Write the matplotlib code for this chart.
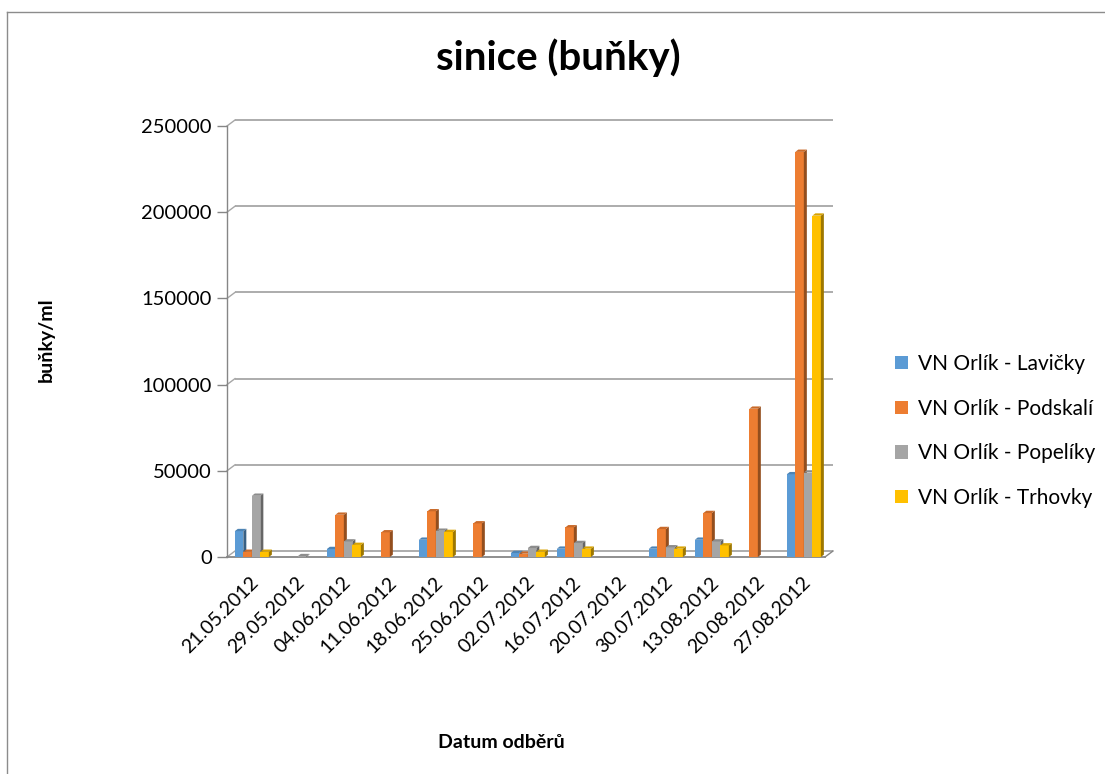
import numpy as np
import matplotlib
matplotlib.use("Agg")
import matplotlib.pyplot as plt
from matplotlib.patches import Polygon, Patch
from matplotlib.lines import Line2D
from matplotlib.colors import to_rgb

plt.rcParams['font.family'] = ['Lato', 'DejaVu Sans']

# ---- data -------------------------------------------------------------
dates = ['21.05.2012', '29.05.2012', '04.06.2012', '11.06.2012', '18.06.2012',
         '25.06.2012', '02.07.2012', '16.07.2012', '20.07.2012', '30.07.2012',
         '13.08.2012', '20.08.2012', '27.08.2012']
nan = np.nan
lavicky = [15000, nan, 4600, nan, 10000, nan, 2300, 4800, nan, 4800, 10000, nan, 48000]
podskali = [3000, nan, 24500, 14300, 26500, 19500, 1900, 17200, nan, 16200, 25500, 86000, 235000]
popeliky = [35500, 500, 9000, nan, 15200, nan, 5200, 8100, nan, 5600, 9000, nan, 49000]
trhovky = [3000, nan, 7000, nan, 14500, nan, 3000, 4800, nan, 4800, 6700, nan, 198000]

series_names = ['VN Orlík - Lavičky', 'VN Orlík - Podskalí',
                'VN Orlík - Popelíky', 'VN Orlík - Trhovky']
series_values = [lavicky, podskali, popeliky, trhovky]
series_colors = ['#5B9BD5', '#ED7D31', '#A5A5A5', '#FFC000']

y_ticks = [0, 50000, 100000, 150000, 200000, 250000]

# ---- figure / axes geometry (pixels) -----------------------------------
W, H = 1105, 774
fig = plt.figure(figsize=(W / 100, H / 100), dpi=100)

ax_left, ax_right = 227, 825
ax_top, ax_bottom = 126, 557
ax = fig.add_axes([ax_left / W, 1 - ax_bottom / H,
                   (ax_right - ax_left) / W, (ax_bottom - ax_top) / H])
n = len(dates)
xmin, xmax = -0.5, n - 0.5
ymin, ymax = 0, 250000
ax.set_xlim(xmin, xmax)
ax.set_ylim(ymin, ymax)

px_x = (ax_right - ax_left) / (xmax - xmin)      # pixels per category
px_y = (ax_bottom - ax_top) / (ymax - ymin)      # pixels per unit

# depth of the back wall and of each bar (pixels -> data)
wall_dx, wall_dy = 8 / px_x, 6 / px_y
bar_dx, bar_dy = 3 / px_x, 2.3 / px_y

grid_col = '#A6A6A6'
axis_col = '#868686'

for s in ['top', 'right', 'bottom']:
    ax.spines[s].set_visible(False)
ax.spines['left'].set_color(axis_col)
ax.spines['left'].set_linewidth(1.0)
ax.patch.set_alpha(0)

# back wall gridlines with their slanted link to the front axis
for v in y_ticks:
    ax.plot([xmin + wall_dx, xmax + wall_dx], [v + wall_dy, v + wall_dy],
            color=grid_col, lw=1.3, zorder=0, clip_on=False,
            solid_capstyle='butt')
    ax.plot([xmin, xmin + wall_dx], [v, v + wall_dy],
            color=grid_col, lw=1.0, zorder=0, clip_on=False)

# floor edges
ax.plot([xmin, xmax], [0, 0], color=axis_col, lw=1.3, zorder=0.5, clip_on=False)
ax.plot([xmax, xmax + wall_dx], [0, wall_dy], color=axis_col, lw=1.0,
        zorder=0.5, clip_on=False)


def shade(c, f):
    r, g, b = to_rgb(c)
    return (r * f, g * f, b * f)


# ---- bars -------------------------------------------------------------
bw = 0.185
shift = 0.04
x = np.arange(n)
for k, (vals, col) in enumerate(zip(series_values, series_colors)):
    vals = np.asarray(vals, dtype=float)
    xc = x + shift + (k - 1.5) * bw
    ok = ~np.isnan(vals)
    z = 2 + k
    ax.bar(xc[ok], vals[ok], width=bw, color=col, linewidth=0, zorder=z)
    for xi, v in zip(xc[ok], vals[ok]):
        xl, xr = xi - bw / 2, xi + bw / 2
        side = Polygon([(xr, 0), (xr + bar_dx, bar_dy), (xr + bar_dx, v + bar_dy), (xr, v)],
                       closed=True, facecolor=shade(col, 0.62), edgecolor='none', zorder=z)
        top = Polygon([(xl, v), (xl + bar_dx, v + bar_dy), (xr + bar_dx, v + bar_dy), (xr, v)],
                      closed=True, facecolor=shade(col, 0.85), edgecolor='none', zorder=z)
        ax.add_patch(side)
        ax.add_patch(top)

# ---- ticks ------------------------------------------------------------
ax.set_yticks(y_ticks)
ax.set_yticklabels([str(v) for v in y_ticks])
ax.tick_params(axis='y', length=7, width=1.0, color=axis_col, pad=4,
               labelsize=14.5, labelcolor='black')
ax.set_xticks(x)
ax.set_xticklabels(dates, rotation=45, ha='right', va='top', rotation_mode='anchor')
ax.tick_params(axis='x', length=0, pad=12, labelsize=14, labelcolor='black')

# ---- text -------------------------------------------------------------
fig.text(558 / W, 1 - 70 / H, 'sinice (buňky)', ha='center', va='baseline',
         fontsize=29, fontweight='bold')
fig.text(46 / W, 1 - 340 / H, 'buňky/ml', rotation=90, ha='center', va='center',
         fontsize=14, fontweight='bold')
fig.text(501 / W, 1 - 743 / H, 'Datum odběrů', ha='center', va='center',
         fontsize=14, fontweight='bold')

handles = [Patch(facecolor=c, edgecolor='none') for c in series_colors]
fig.legend(handles, series_names, loc='center left',
           bbox_to_anchor=(895 / W, 1 - 431 / H), frameon=False,
           fontsize=15, handlelength=0.6, handleheight=0.6, handletextpad=0.5,
           labelspacing=1.18, borderpad=0, borderaxespad=0)

# chart-area border
fig.add_artist(Line2D([7 / W, 7 / W], [1 - 12 / H, 0], color='#8C8C8C', lw=1.0,
                      transform=fig.transFigure))
fig.add_artist(Line2D([7 / W, 1], [1 - 12 / H, 1 - 12 / H], color='#8C8C8C', lw=1.0,
                      transform=fig.transFigure))

fig.savefig('out.png', dpi=100, facecolor='white')
